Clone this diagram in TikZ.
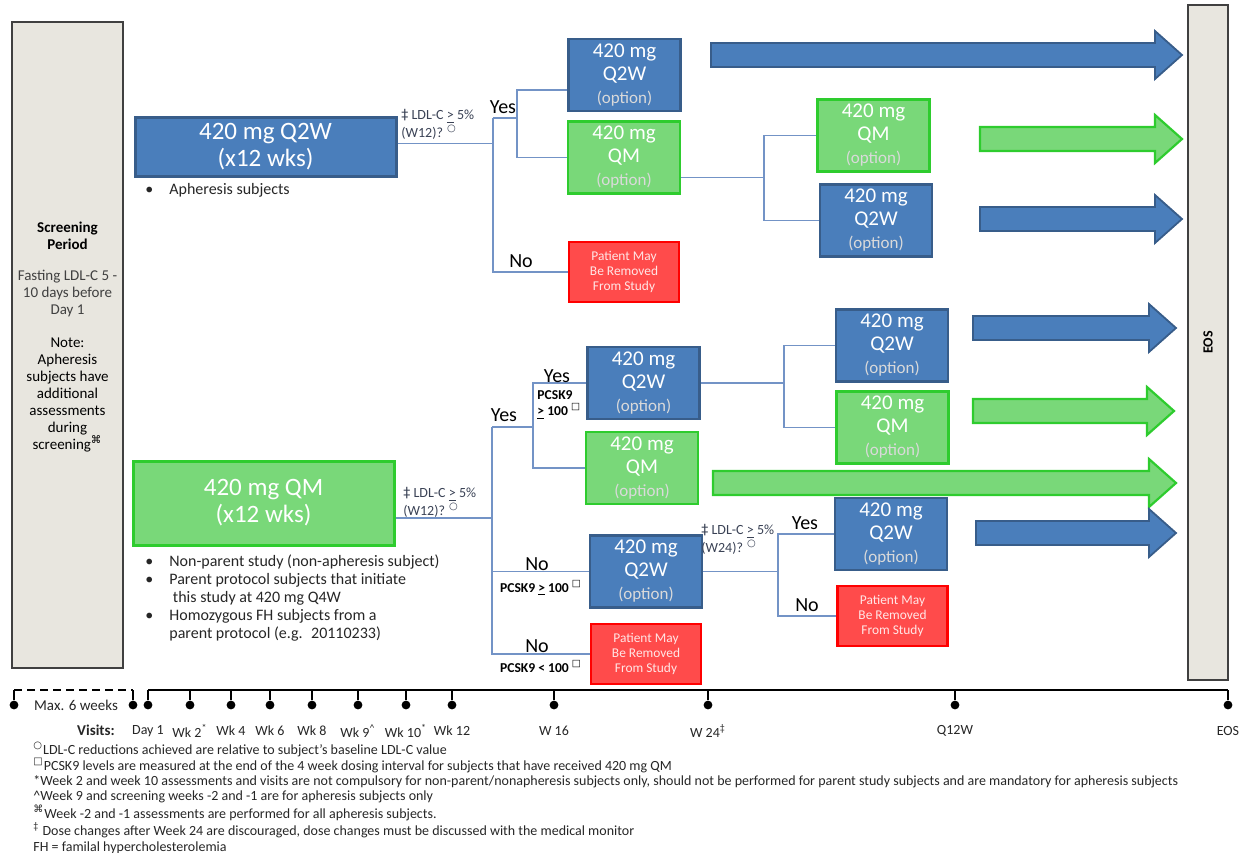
\documentclass[tikz,border=0pt]{standalone}
\usepackage{fontspec}
\setmainfont{Carlito}
\newfontfamily\symfont{DejaVu Sans}
\usetikzlibrary{positioning}

\definecolor{boxblue}{HTML}{4A7EBB}
\definecolor{boxbluedark}{HTML}{385D8A}
\definecolor{boxgreen}{HTML}{79D879}
\definecolor{boxgreendark}{HTML}{2ECC2E}
\definecolor{boxred}{HTML}{FF4B4B}
\definecolor{redtext}{HTML}{FFE6E6}
\definecolor{linkblue}{HTML}{7393C6}
\definecolor{panelgray}{HTML}{E8E6DF}
\definecolor{optgray}{HTML}{DADADA}
\definecolor{condgray}{HTML}{3A4255}

\newcommand{\circmark}{\textsuperscript{\symfont ○}}
\newcommand{\sqmark}{\textsuperscript{\symfont □}}
\newcommand{\ddmark}{{\symfont ‡}}
\newcommand{\cmdmark}{\textsuperscript{\symfont ⌘}}
\newcommand{\dose}[1]{420 mg\\#1\\{\fontsize{8.5}{10}\selectfont\color{optgray}(option)}}
\newcommand{\fatarrow}[4]{\draw[#1] (#2,#4-12) -- (#3-27,#4-12) -- (#3-27,#4-24) -- (#3,#4) -- (#3-27,#4+24) -- (#3-27,#4+12) -- (#2,#4+12) -- cycle;}

\begin{document}
\begin{tikzpicture}[
        x=0.5pt, y=-0.5pt,
        dosebox/.style={minimum width=56pt, minimum height=36pt, inner sep=1pt, align=center, text=white, line width=1.3pt, font=\fontsize{10.5}{11.5}\selectfont},
        bluebox/.style={dosebox, draw=boxbluedark, fill=boxblue},
        greenbox/.style={dosebox, draw=boxgreendark, fill=boxgreen},
        redbox/.style={dosebox, minimum width=55pt, minimum height=30pt, draw=red, fill=boxred, text=redtext, font=\fontsize{6.7}{7.5}\selectfont},
        mainbox/.style={minimum width=130.5pt, inner sep=1pt, align=center, text=white, line width=1.5pt, font=\fontsize{12.5}{13.5}\selectfont},
        panel/.style={draw=black!75, fill=panelgray, line width=0.6pt},
        link/.style={draw=linkblue, line width=0.6pt},
        ans/.style={font=\fontsize{10}{11}\selectfont, inner sep=0pt},
        cond/.style={font=\fontsize{7}{7.6}\selectfont, text=condgray, align=left, inner sep=0pt},
        pcsk/.style={font=\bfseries\fontsize{6.8}{8}\selectfont, align=left, inner sep=0pt},
        bul/.style={font=\fontsize{8}{9}\selectfont, text=black!85, inner sep=0pt},
        bluearrow/.style={draw=boxbluedark, fill=boxblue, line width=0.9pt},
        greenarrow/.style={draw=boxgreendark, fill=boxgreen, line width=1.1pt},
        tl/.style={line width=1pt},
        dot/.style={circle, fill=black, inner sep=0pt, minimum size=4.4pt},
        visit/.style={font=\fontsize{7}{8}\selectfont, text=black!85, inner sep=0pt}
    ]
    \useasboundingbox (0,0) rectangle (1243,852);

    \node[panel, minimum width=55.5pt, minimum height=323pt] (scr) at (67.5,345) {};
    \node[font=\fontsize{7.5}{8.5}\selectfont, align=center, inner sep=0pt] (scrtext) at (67.5,337) {\textbf{Screening}\\\textbf{Period}\\[7pt]\textcolor{black!75}{Fasting LDL-C 5 -}\\\textcolor{black!75}{10 days before}\\\textcolor{black!75}{Day 1}\\[8pt]Note:\\Apheresis\\subjects have\\additional\\assessments\\during\\screening\cmdmark};
    \node[panel, rotate=90, minimum width=337.5pt, minimum height=20pt, font=\bfseries\fontsize{7}{8}\selectfont] (eos) at (1208,342.5) {EOS};

    \node[mainbox, draw=boxbluedark, fill=boxblue, minimum height=29.5pt] (mainA) at (265.5,146.5) {420 mg Q2W\\(x12 wks)};
    \node[bul, anchor=west] (noteA) at (145,190) {\textbullet\hspace{8pt}Apheresis subjects};

    \node[bluebox] (q2wA) at (624.5,75) {\dose{Q2W}};
    \node[greenbox] (qmA) at (624,157.5) {\dose{QM}};
    \node[redbox] (redA) at (624,272) {Patient May\\Be Removed\\From Study};
    \node[greenbox] (qmA2) at (873.5,135.5) {\dose{QM}};
    \node[bluebox] (q2wA2) at (876,220.5) {\dose{Q2W}};

    \coordinate (trA) at (493,118);
    \coordinate (trB) at (517,118);
    \coordinate (trC) at (764,0);
    \draw[link] ([yshift=1.7pt]mainA.east) -- ([yshift=1.7pt]mainA.east -| trA);
    \draw[link] (trA) -- (trA |- redA) -- (redA);
    \draw[link] (trA) -- (trB);
    \draw[link] ([yshift=-7.5pt]q2wA.west) -| (trB |- qmA) -- (qmA);
    \draw[link] ([yshift=-10pt]qmA.east) -- ([yshift=-10pt]qmA.east -| trC);
    \draw[link] (qmA2) -| (trC |- q2wA2) -- (q2wA2);

    \node[cond, anchor=west] (condA) at (401,124.5) {\ddmark\ LDL-C \underline{>} 5\%\\(W12)? \circmark};
    \node[ans] (yesA) at (503,107) {Yes};
    \node[ans] (noA) at (521,261) {No};

    \node[mainbox, draw=boxgreendark, fill=boxgreen, minimum height=42pt] (mainB) at (263.5,503) {420 mg QM\\(x12 wks)};
    \node[bul, anchor=north west] (noteB) at (145,553) {\begin{tabular}{@{}l@{\hspace{8pt}}l@{}}
            \textbullet & Non-parent study (non-apheresis subject)\\
            \textbullet & Parent protocol subjects that initiate\\
                        & \ this study at 420 mg Q4W\\
            \textbullet & Homozygous FH subjects from a\\
                        & parent protocol (e.g. \ 20110233)
        \end{tabular}};

    \node[bluebox] (q2wB) at (643.5,383) {\dose{Q2W}};
    \node[greenbox] (qmB) at (642,468) {\dose{QM}};
    \node[bluebox] (q2wC) at (892,345.5) {\dose{Q2W}};
    \node[greenbox] (qmC) at (892.5,427.5) {\dose{QM}};
    \node[bluebox] (q2wB2) at (646,571.5) {\dose{Q2W}};
    \node[redbox] (redB) at (646,654) {Patient May\\Be Removed\\From Study};
    \node[bluebox] (q2wD) at (891,534) {\dose{Q2W}};
    \node[redbox] (redD) at (892.5,616) {Patient May\\Be Removed\\From Study};

    \coordinate (trD) at (492,427);
    \coordinate (trE) at (533,427);
    \coordinate (trF) at (784,0);
    \coordinate (trG) at (778,0);
    \draw[link] ([yshift=-7.5pt]mainB.east) -- ([yshift=-7.5pt]mainB.east -| trD);
    \draw[link] (trD) -- (trD |- redB) -- (redB);
    \draw[link] (trD |- q2wB2) -- (q2wB2);
    \draw[link] (trD) -- (trE);
    \draw[link] (q2wB) -| (trE |- qmB) -- (qmB);
    \draw[link] (q2wB) -- (q2wB -| trF);
    \draw[link] (q2wC) -| (trF |- qmC) -- (qmC);
    \draw[link] (q2wB2) -- (q2wB2 -| trG);
    \draw[link] (q2wD) -| (trG |- redD) -- (redD);

    \node[cond, anchor=west] (condB) at (403,502.5) {\ddmark\ LDL-C \underline{>} 5\%\\(W12)? \circmark};
    \node[ans] (yesB) at (504,415) {Yes};
    \node[ans] (yesC) at (557,376) {Yes};
    \node[pcsk, anchor=west] (pcskC) at (537,405) {PCSK9\\\underline{>} 100 \sqmark};
    \node[ans] (noB) at (537,564) {No};
    \node[pcsk] (pcskB) at (541,588) {PCSK9 \underline{>} 100 \sqmark};
    \node[ans] (noC) at (537,646) {No};
    \node[pcsk] (pcskD) at (541,666) {PCSK9 < 100 \sqmark};
    \node[cond, anchor=west] (condD) at (701,539.5) {\ddmark\ LDL-C \underline{>} 5\%\\(W24)? \circmark};
    \node[ans] (yesD) at (805,523) {Yes};
    \node[ans] (noD) at (807,605) {No};

    \fatarrow{bluearrow}{711}{1182}{55}
    \fatarrow{greenarrow}{980}{1182}{139}
    \fatarrow{bluearrow}{980}{1182}{219}
    \fatarrow{bluearrow}{973}{1176}{328}
    \fatarrow{greenarrow}{973}{1174}{411}
    \fatarrow{greenarrow}{713}{1176}{483}
    \fatarrow{bluearrow}{976}{1176}{533}

    \node[dot] (s1) at (14,705) {};
    \node[dot] (s2) at (133,705) {};
    \draw[tl] (s1) -- (14,690);
    \draw[tl, dash pattern=on 4pt off 2.5pt] (14,690) -- (133,690);
    \draw[tl] (s2) -- (133,690);
    \node[visit, font=\fontsize{7.5}{8}\selectfont] (maxw) at (76,705) {Max. 6 weeks};
    \node[visit, font=\bfseries\fontsize{7.5}{8}\selectfont] (visits) at (96,730) {Visits:};
    \draw[tl] (148,690) -- (1228,690);
    \foreach \x/\lbl/\nm in {148/Day 1/d1, 190/Wk 2\textsuperscript{*}/w2, 231/Wk 4/w4, 270/Wk 6/w6,
            312/Wk 8/w8, 358/Wk 9\textsuperscript{\textasciicircum}/w9, 406/Wk 10\textsuperscript{*}/w10,
            452/Wk 12/w12, 554/W 16/w16, 708/W 24\textsuperscript{‡}/w24, 955/Q12W/q12, 1228/EOS/eos}{
        \node[dot] (v\nm) at (\x,705) {};
        \draw[tl] (v\nm) -- (\x,690);
        \node[visit] (l\nm) at (\x,731) {\lbl};
    }

    \node[font=\fontsize{7}{7.6}\selectfont, align=left, anchor=north west, inner sep=0pt, text=black!85] (notes) at (33,742) {\circmark LDL-C reductions achieved are relative to subject’s baseline LDL-C value\\
        \sqmark PCSK9 levels are measured at the end of the 4 week dosing interval for subjects that have received 420 mg QM\\
        *Week 2 and week 10 assessments and visits are not compulsory for non-parent/nonapheresis subjects only, should not be performed for parent study subjects and are mandatory for apheresis subjects\\
        \textasciicircum Week 9 and screening weeks -2 and -1 are for apheresis subjects only\\
        \cmdmark Week -2 and -1 assessments are performed for all apheresis subjects.\\
        \textsuperscript{‡} Dose changes after Week 24 are discouraged, dose changes must be discussed with the medical monitor\\
        FH = familal hypercholesterolemia};
\end{tikzpicture}
\end{document}
